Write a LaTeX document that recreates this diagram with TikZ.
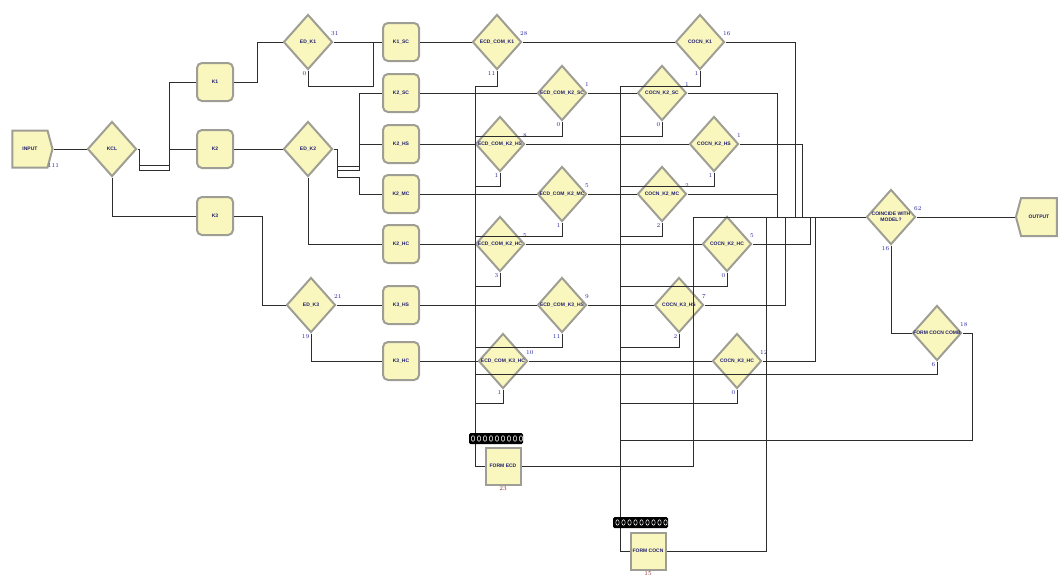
\documentclass[tikz,border=0pt]{standalone}
\usepackage{fontspec}
\setsansfont{Liberation Sans}
\usetikzlibrary{shapes.geometric,shapes.symbols}
\newcommand{\arlbl}[1]{\makebox[0pt]{#1}}

\begin{document}
\begin{tikzpicture}[x=1pt, y=-1pt, conn/.style={line width=0.9pt, arLine}, module/.style={draw=arFrame, line width=2pt, fill=arFill, inner sep=0pt, font=\sffamily\bfseries\fontsize{5}{5.5}\selectfont, text=arText, align=center}, proc/.style={module, rectangle, rounded corners=5pt, minimum width=36pt, minimum height=38pt}, dec/.style={module, diamond, minimum width=49pt, minimum height=55pt}, batch/.style={module, rectangle, minimum width=35pt, minimum height=37pt}, src/.style={module, signal, signal to=east, signal pointer angle=150, minimum width=40pt, minimum height=37pt}, sink/.style={module, signal, signal to=west, signal pointer angle=150, minimum width=41pt, minimum height=38pt}, num/.style={font=\fontsize{6}{6}\selectfont, text=arNum, inner sep=0.5pt}, rnum/.style={num, anchor=south west, xshift=-3pt, yshift=6pt}, bnum/.style={num, anchor=north east, xshift=-1pt}, queue/.style={fill=black, rounded corners=1.5pt}]
\definecolor{arFill}{RGB}{250,247,190}
\definecolor{arFrame}{RGB}{158,158,148}
\definecolor{arLine}{RGB}{45,45,45}
\definecolor{arText}{RGB}{30,30,110}
\definecolor{arNum}{RGB}{40,40,160}
\definecolor{arRust}{RGB}{130,40,40}
\useasboundingbox (0,0) rectangle (1061,576);
\node[src, label={[num, anchor=south west, xshift=-1pt]south east:111}] (input) at (30,149) {INPUT};
\node[dec] (kcl) at (112,149) {\arlbl{KCL}};
\node[proc] (kone) at (215,82) {K1};
\node[proc] (ktwo) at (215,149) {K2};
\node[proc] (kthree) at (215,216) {K3};
\node[dec, label={[rnum]east:31}, label={[bnum]south:0}] (edkone) at (308,42) {\arlbl{ED\_K1}};
\node[dec] (edktwo) at (308,149) {\arlbl{ED\_K2}};
\node[dec, label={[rnum]east:21}, label={[bnum]south:19}] (edkthree) at (311,305) {\arlbl{ED\_K3}};
\node[proc] (koneSC) at (401,42) {K1\_SC};
\node[proc] (ktwoSC) at (401,93) {K2\_SC};
\node[proc] (ktwoHS) at (401,144) {K2\_HS};
\node[proc] (ktwoMC) at (401,194) {K2\_MC};
\node[proc] (ktwoHC) at (401,244) {K2\_HC};
\node[proc] (kthreeHS) at (401,305) {K3\_HS};
\node[proc] (kthreeHC) at (401,361) {K3\_HC};
\node[dec, label={[rnum]east:28}, label={[bnum]south:11}] (ecdkone) at (497,42) {\arlbl{ECD\_COM\_K1}};
\node[dec, label={[rnum]east:1}, label={[bnum]south:0}] (ecdktwoSC) at (562,93) {\arlbl{ECD\_COM\_K2\_SC}};
\node[dec, label={[rnum]east:8}, label={[bnum]south:1}] (ecdktwoHS) at (500,144) {\arlbl{ECD\_COM\_K2\_HS}};
\node[dec, label={[rnum]east:5}, label={[bnum]south:1}] (ecdktwoMC) at (562,194) {\arlbl{ECD\_COM\_K2\_MC}};
\node[dec, label={[rnum]east:5}, label={[bnum]south:3}] (ecdktwoHC) at (500,244) {\arlbl{ECD\_COM\_K2\_HC}};
\node[dec, label={[rnum]east:9}, label={[bnum]south:11}] (ecdkthreeHS) at (562,305) {\arlbl{ECD\_COM\_K3\_HS}};
\node[dec, label={[rnum]east:10}, label={[bnum]south:1}] (ecdkthreeHC) at (503,361) {\arlbl{ECD\_COM\_K3\_HC}};
\node[dec, label={[rnum]east:16}, label={[bnum]south:1}] (cocnkone) at (700,42) {\arlbl{COCN\_K1}};
\node[dec, label={[rnum]east:1}, label={[bnum]south:0}] (cocnktwoSC) at (662,93) {\arlbl{COCN\_K2\_SC}};
\node[dec, label={[rnum]east:1}, label={[bnum]south:1}] (cocnktwoHS) at (714,144) {\arlbl{COCN\_K2\_HS}};
\node[dec, label={[rnum]east:2}, label={[bnum]south:2}] (cocnktwoMC) at (662,194) {\arlbl{COCN\_K2\_MC}};
\node[dec, label={[rnum]east:5}, label={[bnum]south:0}] (cocnktwoHC) at (727,244) {\arlbl{COCN\_K2\_HC}};
\node[dec, label={[rnum]east:7}, label={[bnum]south:2}] (cocnkthreeHS) at (679,305) {\arlbl{COCN\_K3\_HS}};
\node[dec, label={[rnum]east:12}, label={[bnum]south:0}] (cocnkthreeHC) at (737,361) {\arlbl{COCN\_K3\_HC}};
\node[dec, label={[rnum]east:62}, label={[bnum]south:16}] (coincide) at (891,217) {\arlbl{\shortstack{COINCIDE WITH\\MODEL?}}};
\node[sink] (output) at (1039,217) {OUTPUT};
\node[dec, label={[rnum]east:18}, label={[bnum]south:6}] (formcomb) at (937,333) {\arlbl{FORM COCN COMB}};
\node[batch, label={[num, text=arRust]below:23}] (formecd) at (503,466) {FORM ECD};
\node[batch, label={[num, text=arRust]below:15}] (formcocn) at (648,551) {FORM COCN};
\draw[conn] (input.east) -- (kcl.west);
\draw[conn] (kcl.east) -- ++(2,0) -- ++(0,16) -| ([xshift=-27pt]kone.west) -- (kone.west);
\draw[conn] (kcl.east) -- ++(2,0) -- ++(0,21) -| ([xshift=-27pt]ktwo.west) -- (ktwo.west);
\draw[conn] (kcl.south) |- (kthree.west);
\draw[conn] (kone.east) -- ++(23,0) |- (edkone.west);
\draw[conn] (ktwo.east) -- (edktwo.west);
\draw[conn] (kthree.east) -- ++(28,0) |- (edkthree.west);
\draw[conn] (edkone.east) -- (koneSC.west);
\draw[conn] (edkone.south) -- ++(0,16) -| ([xshift=-9pt]koneSC.west) -- (koneSC.west);
\draw[conn] (edktwo.east) -- ++(4,0) -- ++(0,17) -| ([xshift=-23pt]ktwoSC.west) -- (ktwoSC.west);
\draw[conn] (edktwo.east) -- ++(4,0) -- ++(0,21) -| ([xshift=-23pt]ktwoHS.west) -- (ktwoHS.west);
\draw[conn] (edktwo.east) -- ++(4,0) -- ++(0,28) -| ([xshift=-23pt]ktwoMC.west) -- (ktwoMC.west);
\draw[conn] (edktwo.south) |- (ktwoHC.west);
\draw[conn] (edkthree.east) -- (kthreeHS.west);
\draw[conn] (edkthree.south) |- (kthreeHC.west);
\draw[conn] (koneSC.east) -- (ecdkone.west);
\draw[conn] (ktwoSC.east) -- (ecdktwoSC.west);
\draw[conn] (ktwoHS.east) -- (ecdktwoHS.west);
\draw[conn] (ktwoMC.east) -- (ecdktwoMC.west);
\draw[conn] (ktwoHC.east) -- (ecdktwoHC.west);
\draw[conn] (kthreeHS.east) -- (ecdkthreeHS.west);
\draw[conn] (kthreeHC.east) -- (ecdkthreeHC.west);
\draw[conn] (ecdkone.east) -- (cocnkone.west);
\draw[conn] (ecdktwoSC.east) -- (cocnktwoSC.west);
\draw[conn] (ecdktwoHS.east) -- (cocnktwoHS.west);
\draw[conn] (ecdktwoMC.east) -- (cocnktwoMC.west);
\draw[conn] (ecdktwoHC.east) -- (cocnktwoHC.west);
\draw[conn] (ecdkthreeHS.east) -- (cocnkthreeHS.west);
\draw[conn] (ecdkthreeHC.east) -- (cocnkthreeHC.west);
\draw[conn] (ecdkone.south) -- ++(0,16) -| ([xshift=-9pt]formecd.west) -- (formecd.west);
\draw[conn] (ecdktwoSC.south) -- ++(0,15) -| ([xshift=-9pt]formecd.west) -- (formecd.west);
\draw[conn] (ecdktwoHS.south) -- ++(0,14) -| ([xshift=-9pt]formecd.west) -- (formecd.west);
\draw[conn] (ecdktwoMC.south) -- ++(0,14) -| ([xshift=-9pt]formecd.west) -- (formecd.west);
\draw[conn] (ecdktwoHC.south) -- ++(0,14) -| ([xshift=-9pt]formecd.west) -- (formecd.west);
\draw[conn] (ecdkthreeHS.south) -- ++(0,14) -| ([xshift=-9pt]formecd.west) -- (formecd.west);
\draw[conn] (ecdkthreeHC.south) -- ++(0,14) -| ([xshift=-9pt]formecd.west) -- (formecd.west);
\draw[conn] (cocnkone.south) -- ++(0,16) -| ([xshift=-9pt]formcocn.west) -- (formcocn.west);
\draw[conn] (cocnktwoSC.south) -- ++(0,15) -| ([xshift=-9pt]formcocn.west) -- (formcocn.west);
\draw[conn] (cocnktwoHS.south) -- ++(0,14) -| ([xshift=-9pt]formcocn.west) -- (formcocn.west);
\draw[conn] (cocnktwoMC.south) -- ++(0,14) -| ([xshift=-9pt]formcocn.west) -- (formcocn.west);
\draw[conn] (cocnktwoHC.south) -- ++(0,14) -| ([xshift=-9pt]formcocn.west) -- (formcocn.west);
\draw[conn] (cocnkthreeHS.south) -- ++(0,14) -| ([xshift=-9pt]formcocn.west) -- (formcocn.west);
\draw[conn] (cocnkthreeHC.south) -- ++(0,14) -| ([xshift=-9pt]formcocn.west) -- (formcocn.west);
\draw[conn] (cocnkone.east) -| ([xshift=-70pt]coincide.west) -- (coincide.west);
\draw[conn] (cocnktwoSC.east) -| ([xshift=-88pt]coincide.west) -- (coincide.west);
\draw[conn] (cocnktwoHS.east) -| ([xshift=-63pt]coincide.west) -- (coincide.west);
\draw[conn] (cocnktwoMC.east) -| ([xshift=-88pt]coincide.west) -- (coincide.west);
\draw[conn] (cocnktwoHC.east) -| ([xshift=-55pt]coincide.west) -- (coincide.west);
\draw[conn] (cocnkthreeHS.east) -| ([xshift=-80pt]coincide.west) -- (coincide.west);
\draw[conn] (cocnkthreeHC.east) -| ([xshift=-50pt]coincide.west) -- (coincide.west);
\draw[conn] (formcocn.east) -| ([xshift=-99pt]coincide.west) -- (coincide.west);
\draw[conn] (formecd.east) -| ([xshift=-172pt]coincide.west) -- (coincide.west);
\draw[conn] (coincide.east) -- (output.west);
\draw[conn] (coincide.south) |- (formcomb.west);
\draw[conn] (formcomb.south) -- ++(0,13) -| ([xshift=-9pt]formecd.west) -- (formecd.west);
\draw[conn] (formcomb.east) -- ++(10,0) -- ++(0,107) -| ([xshift=-9pt]formcocn.west) -- (formcocn.west);
\fill[queue] (469,433) rectangle (523,444);
\foreach \i in {0,...,8} \draw[white, line width=0.5pt] (473+6*\i,438.5) ellipse [x radius=1.7pt, y radius=2.8pt];
\fill[queue] (613,517) rectangle (668,528);
\foreach \i in {0,...,8} \draw[white, line width=0.5pt] (617.5+6*\i,522.5) ellipse [x radius=1.7pt, y radius=2.8pt];
\end{tikzpicture}
\end{document}
